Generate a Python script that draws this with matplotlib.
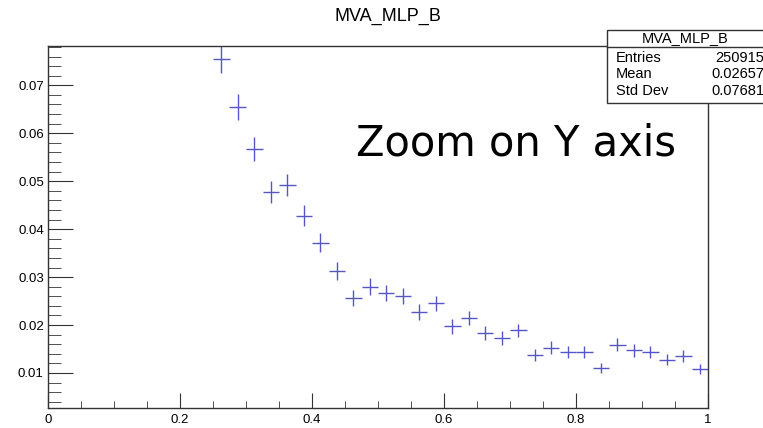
import matplotlib
matplotlib.use("Agg")
import matplotlib.pyplot as plt
from matplotlib.patches import Rectangle
from matplotlib.lines import Line2D
from matplotlib.ticker import MultipleLocator, FormatStrFormatter, FuncFormatter

plt.rcParams['font.family'] = ['Liberation Sans', 'DejaVu Sans']

# histogram content (bin width 0.025)
x_centers = [0.2625, 0.2875, 0.3125, 0.3375, 0.3625, 0.3875, 0.4125, 0.4375,
             0.4625, 0.4875, 0.5125, 0.5375, 0.5625, 0.5875, 0.6125, 0.6375,
             0.6625, 0.6875, 0.7125, 0.7375, 0.7625, 0.7875, 0.8125, 0.8375,
             0.8625, 0.8875, 0.9125, 0.9375, 0.9625, 0.9875]
y_values = [0.0754, 0.0655, 0.0567, 0.0478, 0.0492, 0.0428, 0.0372, 0.0313,
            0.0256, 0.0280, 0.0267, 0.0261, 0.0227, 0.0245, 0.0197, 0.0215,
            0.0183, 0.0173, 0.0189, 0.0138, 0.0153, 0.0144, 0.0144, 0.0110,
            0.0159, 0.0147, 0.0144, 0.0128, 0.0135, 0.0108]
y_errors = [0.0029, 0.0027, 0.0025, 0.0023, 0.0023, 0.0022, 0.0020, 0.0019,
            0.0017, 0.0018, 0.0017, 0.0017, 0.0016, 0.0016, 0.0015, 0.0015,
            0.0014, 0.0014, 0.0014, 0.0012, 0.0013, 0.0013, 0.0013, 0.0011,
            0.0013, 0.0013, 0.0013, 0.0012, 0.0012, 0.0011]
half_bin = 0.0125

stat_names = ["Entries", "Mean", "Std Dev"]
stat_values = ["250915", "0.02657", "0.07681"]

W, H = 763, 428
fig = plt.figure(figsize=(W / 100, H / 100), dpi=100)
ax = fig.add_axes([48 / W, 1 - 408 / H, 660 / W, 362 / H])

ax.errorbar(x_centers, y_values, yerr=y_errors, xerr=half_bin, fmt='none',
            ecolor='#5555c8', elinewidth=1.0, capsize=0)

ax.set_xlim(0, 1)
ax.set_ylim(0.0027, 0.0782)

ax.xaxis.set_major_locator(MultipleLocator(0.2))
ax.xaxis.set_minor_locator(MultipleLocator(0.05))
ax.yaxis.set_major_locator(MultipleLocator(0.01))
ax.yaxis.set_minor_locator(MultipleLocator(0.002))
ax.xaxis.set_major_formatter(FuncFormatter(lambda v, p: '%g' % round(v, 3)))
ax.yaxis.set_major_formatter(FormatStrFormatter('%.2f'))

ax.tick_params(axis='both', which='both', direction='in', labelsize=9.5,
               color='#333333', top=False, right=False)
ax.tick_params(axis='x', which='major', length=11, pad=4)
ax.tick_params(axis='x', which='minor', length=5)
ax.tick_params(axis='y', which='major', length=18, pad=3)
ax.tick_params(axis='y', which='minor', length=9)
for s in ax.spines.values():
    s.set_color('#333333')
    s.set_linewidth(1.0)

fig.text(388 / W, 1 - 16 / H, "MVA_MLP_B", ha='center', va='center', fontsize=13)
fig.text(356 / W, 1 - 143 / H, "Zoom on Y axis", ha='left', va='center',
         fontsize=30, family='DejaVu Sans')

# statistics box
box_l, box_t, box_b = 607, 30, 103
fig.patches.append(Rectangle((box_l / W, 1 - box_b / H), (W + 10 - box_l) / W,
                             (box_b - box_t) / H, transform=fig.transFigure,
                             facecolor='white', edgecolor='#333333', lw=1.0, zorder=5))
fig.lines.append(Line2D([box_l / W, 1.0], [1 - 47 / H, 1 - 47 / H],
                        transform=fig.transFigure, color='#333333', lw=1.0, zorder=6))
fig.text((box_l + W) / 2 / W, 1 - 38.5 / H, "MVA_MLP_B", ha='center', va='center',
         fontsize=10.5, zorder=7)
for i, (name, val) in enumerate(zip(stat_names, stat_values)):
    yy = 1 - (58 + 16.5 * i) / H
    fig.text(616 / W, yy, name, ha='left', va='center', fontsize=10.5, zorder=7)
    fig.text(764 / W, yy, val, ha='right', va='center', fontsize=10.5, zorder=7)

fig.savefig("out.png", dpi=100)
